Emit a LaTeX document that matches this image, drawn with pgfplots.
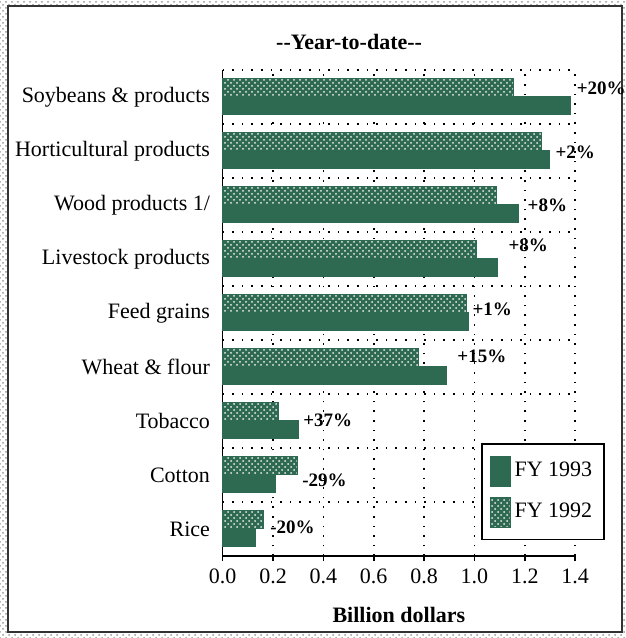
\documentclass[border=0pt]{standalone}
\usepackage{pgfplots}
\pgfplotsset{compat=1.18}
\usepackage{pgfplotstable}
\usepackage{fontspec}
\setmainfont{Liberation Serif}
\usetikzlibrary{patterns}
\definecolor{dg}{RGB}{46,105,82}

\pgfplotstableread{
y v92 v93
0 0.160 0.130
1 0.295 0.210
2 0.220 0.300
3 0.776 0.890
4 0.967 0.975
5 1.007 1.090
6 1.089 1.174
7 1.268 1.297
8 1.154 1.381
}\data

\begin{document}
\fontsize{11}{13}\selectfont
\begin{tikzpicture}
\fill[white] (-111.35pt,-41pt) rectangle (201.65pt,278pt);
\fill[pattern=crosshatch dots, pattern color=gray!80] (-111.35pt,-41pt) rectangle (201.65pt,278pt);
\path[use as bounding box] (-111.35pt,-41pt) rectangle (201.65pt,278pt);
\filldraw[fill=white, draw=black!80, line width=0.8pt] (-107.35pt,-38pt) rectangle (199.65pt,275pt);
\node[font=\bfseries] at (63.2pt,257pt) {-{}-Year-to-date-{}-};
\begin{axis}[
  at={(0,0)}, anchor=south west,
  scale only axis, width=176.2pt, height=243pt,
  xmin=0, xmax=1.4, ymin=-0.5, ymax=8.5,
  enlargelimits=false, clip=false,
  axis x line*=bottom, axis y line*=left,
  axis line style={-, black, line width=0.8pt},
  xtick={0,0.2,0.4,0.6,0.8,1,1.2,1.4},
  xticklabel style={/pgf/number format/.cd, fixed, fixed zerofill, precision=1},
  /pgf/number format/assume math mode=true,
  ytick={0,1,2,3,4,5,6,7,8},
  yticklabels={Rice,Cotton,Tobacco,Wheat \& flour,Feed grains,Livestock products,Wood products 1/,Horticultural products,Soybeans \& products},
  minor ytick={0.5,1.5,2.5,3.5,4.5,5.5,6.5,7.5,8.5},
  xmajorgrids, yminorgrids,
  major grid style={black, line width=0.8pt, dash pattern=on 0.8pt off 4pt},
  minor grid style={black, line width=0.8pt, dash pattern=on 0.8pt off 4pt},
  x tick style={black, line width=0.8pt},
  tick align=outside, major tick length=2.5pt,
  y tick style={draw=none}, minor tick length=0pt,
  xlabel={\bfseries Billion dollars},
  x label style={at={(axis description cs:0.5,-0.1214)}, anchor=center},
  legend style={at={(0.733,0.2325)}, anchor=north west, draw=black, line width=0.8pt,
    row sep=5pt, inner xsep=4pt, inner ysep=6pt, font=\fontsize{11}{13}\selectfont},
  legend cell align=left,
  mylegend/.style={legend image code/.code={\draw[##1, line width=0.4pt] (0pt,-7.5pt) rectangle (10pt,7.5pt);}},
]
\addplot[xbar, bar width=0.34, bar shift=-0.16, fill=dg, draw=dg, mylegend] table[x=v93,y=y]{\data};
\addlegendentry{FY 1993}
\addplot[xbar, bar width=0.34, bar shift=0.18, fill=dg, draw=dg,
  postaction={pattern=crosshatch dots, pattern color=white!85!gray}, mylegend] table[x=v92,y=y]{\data};
\addlegendentry{FY 1992}
\begin{scope}[every node/.style={anchor=west, inner sep=0pt, font=\bfseries\fontsize{9.5}{11}\selectfont}]
\node at (axis cs:1.405,8.17) {+20\%};
\node at (axis cs:1.321,6.98) {+2\%};
\node at (axis cs:1.21,6.0) {+8\%};
\node at (axis cs:1.134,5.26) {+8\%};
\node at (axis cs:0.991,4.07) {+1\%};
\node at (axis cs:0.931,3.20) {+15\%};
\node at (axis cs:0.319,2.02) {+37\%};
\node at (axis cs:0.315,0.907) {-29\%};
\node at (axis cs:0.188,0.037) {-20\%};
\end{scope}
\end{axis}
\end{tikzpicture}
\end{document}
